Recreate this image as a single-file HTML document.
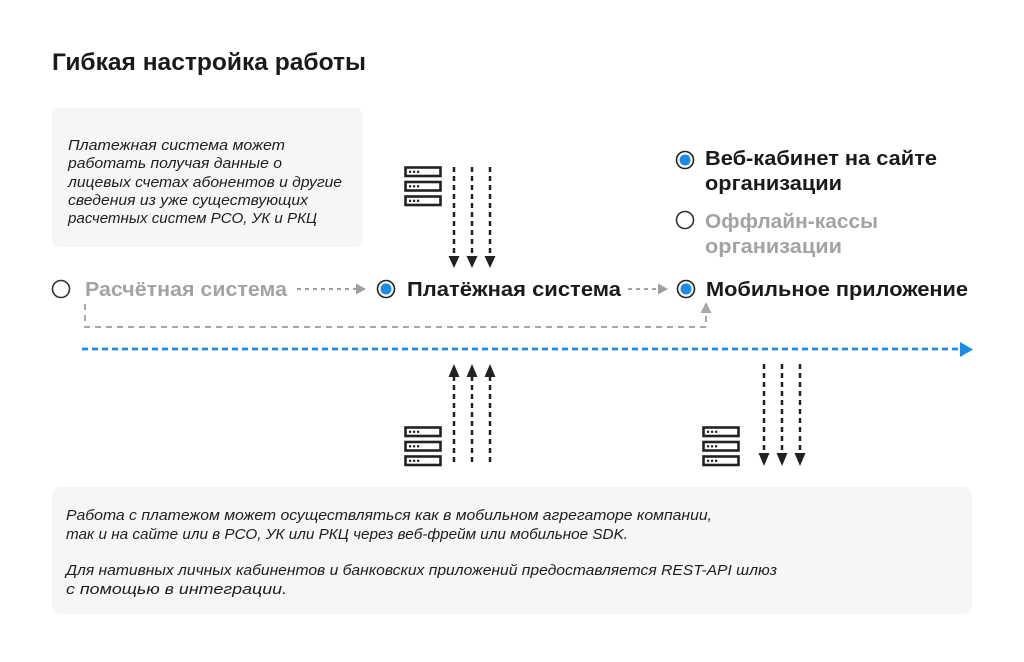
<!DOCTYPE html>
<html>
<head>
<meta charset="utf-8">
<style>
html,body{margin:0;padding:0;background:#fff;}
svg{display:block;}
text{font-family:"Liberation Sans","DejaVu Sans",sans-serif;}
.t{font-weight:bold;fill:#1a1a1a;}
.g{font-weight:bold;fill:#a3a3a3;}
.i{font-style:italic;fill:#1e1e1e;font-size:15px;}
</style>
</head>
<body>
<svg width="1024" height="662" viewBox="0 0 1024 662" xmlns="http://www.w3.org/2000/svg">
  <rect width="1024" height="662" fill="#fff"/>
  <!-- title -->
  <text class="t" x="52" y="70" font-size="24" textLength="314" lengthAdjust="spacingAndGlyphs">Гибкая настройка работы</text>

  <!-- top box -->
  <rect x="52" y="108" width="311" height="139" rx="8" fill="#f6f6f6"/>
  <text class="i" x="68" y="150" textLength="217" lengthAdjust="spacingAndGlyphs">Платежная система может</text>
  <text class="i" x="68" y="168" textLength="214" lengthAdjust="spacingAndGlyphs">работать получая данные о</text>
  <text class="i" x="68" y="187" textLength="274" lengthAdjust="spacingAndGlyphs">лицевых счетах абонентов и другие</text>
  <text class="i" x="68" y="205" textLength="240" lengthAdjust="spacingAndGlyphs">сведения из уже существующих</text>
  <text class="i" x="68" y="223" textLength="249" lengthAdjust="spacingAndGlyphs">расчетных систем РСО, УК и РКЦ</text>

  <!-- server icon defs -->
  <defs>
    <g id="srv">
      <rect x="1.5" y="1.5" width="35" height="8.5" fill="#fff" stroke="#222" stroke-width="2.6"/>
      <rect x="1.5" y="16" width="35" height="8.5" fill="#fff" stroke="#222" stroke-width="2.6"/>
      <rect x="1.5" y="30.5" width="35" height="8.5" fill="#fff" stroke="#222" stroke-width="2.6"/>
      <g fill="#222">
        <rect x="5" y="4.7" width="2.2" height="2.2"/><rect x="9" y="4.7" width="2.2" height="2.2"/><rect x="13" y="4.7" width="2.2" height="2.2"/>
        <rect x="5" y="19.2" width="2.2" height="2.2"/><rect x="9" y="19.2" width="2.2" height="2.2"/><rect x="13" y="19.2" width="2.2" height="2.2"/>
        <rect x="5" y="33.7" width="2.2" height="2.2"/><rect x="9" y="33.7" width="2.2" height="2.2"/><rect x="13" y="33.7" width="2.2" height="2.2"/>
      </g>
    </g>
  </defs>

  <use href="#srv" x="404" y="166"/>
  <use href="#srv" x="404" y="426"/>
  <use href="#srv" x="702" y="426"/>

  <!-- top down arrows -->
  <g stroke="#222" stroke-width="2.5" stroke-dasharray="5 4">
    <line x1="454" y1="167" x2="454" y2="257"/>
    <line x1="472" y1="167" x2="472" y2="257"/>
    <line x1="490" y1="167" x2="490" y2="257"/>
  </g>
  <g fill="#222">
    <polygon points="448.5,256 459.5,256 454,268"/>
    <polygon points="466.5,256 477.5,256 472,268"/>
    <polygon points="484.5,256 495.5,256 490,268"/>
  </g>

  <!-- bottom up arrows -->
  <g stroke="#222" stroke-width="2.5" stroke-dasharray="5 4">
    <line x1="454" y1="376" x2="454" y2="466"/>
    <line x1="472" y1="376" x2="472" y2="466"/>
    <line x1="490" y1="376" x2="490" y2="466"/>
  </g>
  <g fill="#222">
    <polygon points="448.5,377 459.5,377 454,364"/>
    <polygon points="466.5,377 477.5,377 472,364"/>
    <polygon points="484.5,377 495.5,377 490,364"/>
  </g>

  <!-- right down arrows -->
  <g stroke="#222" stroke-width="2.5" stroke-dasharray="5 4">
    <line x1="764" y1="364" x2="764" y2="454"/>
    <line x1="782" y1="364" x2="782" y2="454"/>
    <line x1="800" y1="364" x2="800" y2="454"/>
  </g>
  <g fill="#222">
    <polygon points="758.5,453 769.5,453 764,466"/>
    <polygon points="776.5,453 787.5,453 782,466"/>
    <polygon points="794.5,453 805.5,453 800,466"/>
  </g>

  <!-- main row -->
  <circle cx="61" cy="289" r="8.5" fill="none" stroke="#333" stroke-width="1.6"/>
  <text class="g" x="85" y="296" font-size="20" textLength="202" lengthAdjust="spacingAndGlyphs">Расчётная система</text>

  <line x1="297" y1="289" x2="357" y2="289" stroke="#9e9e9e" stroke-width="2" stroke-dasharray="4 4"/>
  <polygon points="356,283.5 366,289 356,294.5" fill="#9e9e9e"/>

  <circle cx="386" cy="289" r="8.5" fill="#fff" stroke="#222" stroke-width="1.6"/>
  <circle cx="386" cy="289" r="5.5" fill="#1a8be6"/>
  <text class="t" x="407" y="296" font-size="20" textLength="214" lengthAdjust="spacingAndGlyphs">Платёжная система</text>

  <line x1="628" y1="289" x2="659" y2="289" stroke="#9e9e9e" stroke-width="2" stroke-dasharray="4 4"/>
  <polygon points="658,283.5 668,289 658,294.5" fill="#9e9e9e"/>

  <circle cx="686" cy="289" r="8.5" fill="#fff" stroke="#222" stroke-width="1.6"/>
  <circle cx="686" cy="289" r="5.5" fill="#1a8be6"/>
  <text class="t" x="706" y="296" font-size="20" textLength="262" lengthAdjust="spacingAndGlyphs">Мобильное приложение</text>

  <!-- gray return path -->
  <path d="M85 304 V327 H706 V313" fill="none" stroke="#a8a8a8" stroke-width="2" stroke-dasharray="6 5"/>
  <polygon points="700.5,313 711.5,313 706,302" fill="#a8a8a8"/>

  <!-- blue timeline -->
  <line x1="82" y1="349" x2="960" y2="349" stroke="#1a8be6" stroke-width="2.8" stroke-dasharray="6 4"/>
  <polygon points="960,342 973,349.5 960,357" fill="#1a8be6"/>

  <!-- right list -->
  <circle cx="685" cy="160" r="8.5" fill="#fff" stroke="#222" stroke-width="1.6"/>
  <circle cx="685" cy="160" r="5.5" fill="#1a8be6"/>
  <text class="t" x="705" y="165" font-size="20" textLength="232" lengthAdjust="spacingAndGlyphs">Веб-кабинет на сайте</text>
  <text class="t" x="705" y="190" font-size="20" textLength="137" lengthAdjust="spacingAndGlyphs">организации</text>

  <circle cx="685" cy="220" r="8.5" fill="none" stroke="#333" stroke-width="1.6"/>
  <text class="g" x="705" y="228" font-size="20" textLength="173" lengthAdjust="spacingAndGlyphs">Оффлайн-кассы</text>
  <text class="g" x="705" y="253" font-size="20" textLength="137" lengthAdjust="spacingAndGlyphs">организации</text>

  <!-- bottom box -->
  <rect x="52" y="487" width="920" height="127" rx="8" fill="#f6f6f6"/>
  <text class="i" x="66" y="520" textLength="646" lengthAdjust="spacingAndGlyphs">Работа с платежом может осуществляться как в мобильном агрегаторе компании,</text>
  <text class="i" x="66" y="539" textLength="562" lengthAdjust="spacingAndGlyphs">так и на сайте или в  РСО, УК или РКЦ через веб-фрейм или мобильное SDK.</text>
  <text class="i" x="66" y="575" textLength="711" lengthAdjust="spacingAndGlyphs">Для нативных личных кабинентов и банковских приложений предоставляется REST-API шлюз</text>
  <text class="i" x="66" y="594" textLength="221" lengthAdjust="spacingAndGlyphs">с помощью в интеграции.</text>
</svg>
</body>
</html>
